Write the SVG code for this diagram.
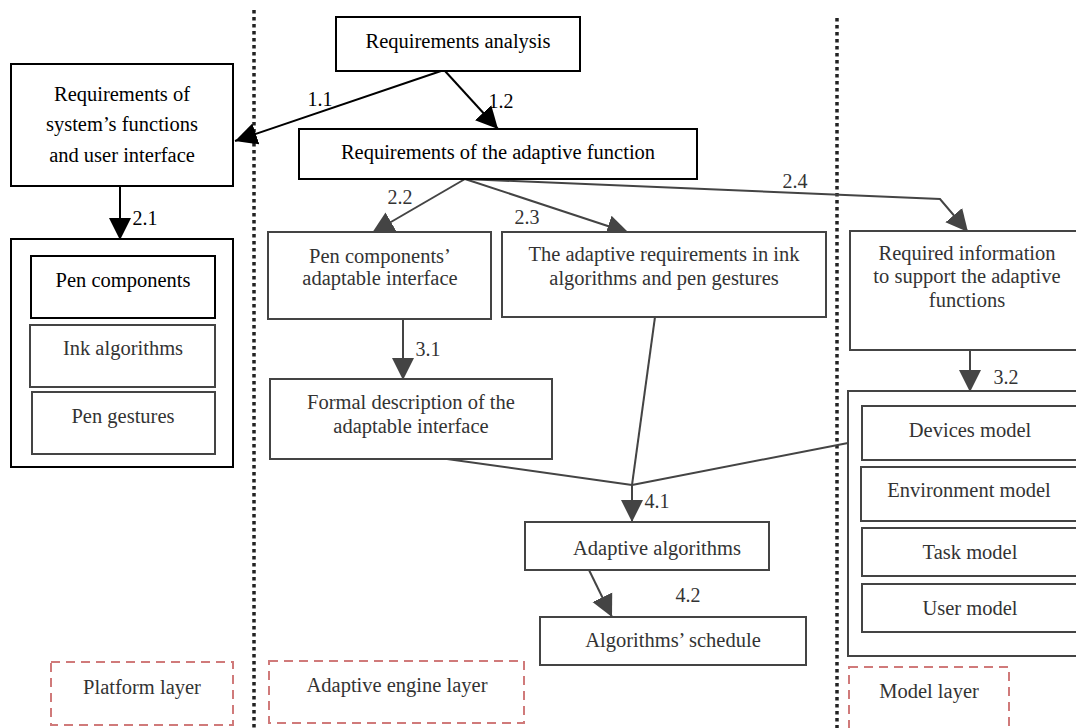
<svg xmlns="http://www.w3.org/2000/svg" width="1076" height="728" viewBox="0 0 1076 728">
<style>
text{font-family:"Liberation Serif","Times New Roman",serif;font-size:20.5px;text-anchor:middle}
.k{fill:#000}
.g{fill:#333}
.bk{fill:#fff;stroke:#000;stroke-width:2}
.bg{fill:#fff;stroke:#444;stroke-width:2}
.lb{fill:none;stroke:#000;stroke-width:2}
.lg{fill:none;stroke:#444;stroke-width:2}
.dot{stroke:#222;stroke-width:3.5;stroke-dasharray:3.5 3.5}
.dash{fill:none;stroke:#d07a7a;stroke-width:2;stroke-dasharray:9 6}
.lbl{font-size:20px}
</style>
<defs>
<marker id="ak" markerUnits="userSpaceOnUse" markerWidth="24" markerHeight="24" viewBox="0 0 24 24" refX="22" refY="12" orient="auto"><path d="M0,1 L22,12 L0,23 Z" fill="#000"/></marker>
<marker id="ag" markerUnits="userSpaceOnUse" markerWidth="24" markerHeight="24" viewBox="0 0 24 24" refX="22" refY="12" orient="auto"><path d="M0,1 L22,12 L0,23 Z" fill="#444"/></marker>
</defs>
<rect width="1076" height="728" fill="#fff"/>
<g id="separators">
<line class="dot" x1="254" y1="10" x2="254" y2="728"/>
<line class="dot" x1="837" y1="18" x2="837" y2="728"/>
</g>
<g id="connectors">
<line class="lb" x1="441" y1="71" x2="235" y2="141" marker-end="url(#ak)"/>
<line class="lb" x1="445" y1="71" x2="498" y2="129" marker-end="url(#ak)"/>
<line class="lb" x1="120" y1="186" x2="120" y2="240" marker-end="url(#ak)"/>
<line class="lg" x1="465" y1="179" x2="372" y2="233" marker-end="url(#ag)"/>
<line class="lg" x1="465" y1="179" x2="629" y2="233" marker-end="url(#ag)"/>
<polyline class="lg" points="465,179 940,199 968,232" marker-end="url(#ag)"/>
<line class="lg" x1="403" y1="319" x2="403" y2="380" marker-end="url(#ag)"/>
<line class="lg" x1="970" y1="350" x2="970" y2="392" marker-end="url(#ag)"/>
<line class="lg" x1="655" y1="317" x2="632" y2="485"/>
<line class="lg" x1="447" y1="459" x2="632" y2="485"/>
<line class="lg" x1="848" y1="443" x2="632" y2="485"/>
<line class="lg" x1="632" y1="485" x2="632" y2="522" marker-end="url(#ag)"/>
<line class="lg" x1="589" y1="570" x2="612" y2="617" marker-end="url(#ag)"/>
<text class="k lbl" x="320" y="106">1.1</text>
<text class="k lbl" x="501" y="108">1.2</text>
<text class="k lbl" x="145" y="225">2.1</text>
<text class="g lbl" x="400" y="204">2.2</text>
<text class="g lbl" x="527" y="224">2.3</text>
<text class="g lbl" x="795" y="188">2.4</text>
<text class="g lbl" x="428" y="356">3.1</text>
<text class="g lbl" x="1006" y="384">3.2</text>
<text class="g lbl" x="657" y="508">4.1</text>
<text class="g lbl" x="688" y="602">4.2</text>
</g>
<g id="req-analysis">
<rect class="bk" x="336" y="17" width="244" height="54"/>
<text class="k" x="458" y="48">Requirements analysis</text>
</g>
<g id="req-system">
<rect class="bk" x="11" y="64" width="222" height="122"/>
<text class="k" x="122" y="101">Requirements of</text>
<text class="k" x="122" y="131">system’s functions</text>
<text class="k" x="122" y="162">and user interface</text>
</g>
<g id="req-adaptive">
<rect class="bk" x="299" y="129" width="398" height="50"/>
<text class="k" x="498" y="159">Requirements of the adaptive function</text>
</g>
<g id="platform">
<rect class="bk" x="11" y="239" width="222" height="228"/>
<rect class="bk" x="31" y="256" width="184" height="62"/>
<text class="k" x="123" y="287">Pen components</text>
<rect class="bg" x="30" y="325" width="185" height="62"/>
<text class="g" x="123" y="355">Ink algorithms</text>
<rect class="bg" x="32" y="392" width="183" height="62"/>
<text class="g" x="123" y="423">Pen gestures</text>
</g>
<g id="pen-interface">
<rect class="bg" x="268" y="232" width="223" height="87"/>
<text class="g" x="380" y="263">Pen components’</text>
<text class="g" x="380" y="285">adaptable interface</text>
</g>
<g id="ink-req">
<rect class="bg" x="502" y="232" width="324" height="85"/>
<text class="g" x="664" y="261">The adaptive requirements in ink</text>
<text class="g" x="664" y="285">algorithms and pen gestures</text>
</g>
<g id="required-info">
<rect class="bg" x="850" y="231" width="236" height="119"/>
<text class="g" x="967" y="260">Required information</text>
<text class="g" x="967" y="283">to support the adaptive</text>
<text class="g" x="967" y="307">functions</text>
</g>
<g id="formal-desc">
<rect class="bg" x="270" y="379" width="282" height="80"/>
<text class="g" x="411" y="409">Formal description of the</text>
<text class="g" x="411" y="433">adaptable interface</text>
</g>
<g id="adaptive-algorithms">
<rect class="bg" x="525" y="522" width="244" height="48"/>
<text class="g" x="657" y="555">Adaptive algorithms</text>
</g>
<g id="schedule">
<rect class="bg" x="540" y="617" width="266" height="48"/>
<text class="g" x="673" y="647">Algorithms’ schedule</text>
</g>
<g id="models">
<rect class="bg" x="848" y="391" width="238" height="265"/>
<rect class="bg" x="862" y="406" width="224" height="54"/>
<text class="g" x="970" y="437">Devices model</text>
<rect class="bg" x="861" y="467" width="225" height="54"/>
<text class="g" x="969" y="497">Environment model</text>
<rect class="bg" x="862" y="528" width="224" height="48"/>
<text class="g" x="970" y="559">Task model</text>
<rect class="bg" x="862" y="584" width="224" height="48"/>
<text class="g" x="970" y="615">User model</text>
</g>
<g id="platform-layer">
<rect class="dash" x="51" y="662" width="182" height="63"/>
<text class="g" x="142" y="694">Platform layer</text>
</g>
<g id="engine-layer">
<rect class="dash" x="269" y="661" width="255" height="62"/>
<text class="g" x="397" y="692">Adaptive engine layer</text>
</g>
<g id="model-layer">
<rect class="dash" x="849" y="667" width="160" height="66"/>
<text class="g" x="929" y="698">Model layer</text>
</g>
</svg>
